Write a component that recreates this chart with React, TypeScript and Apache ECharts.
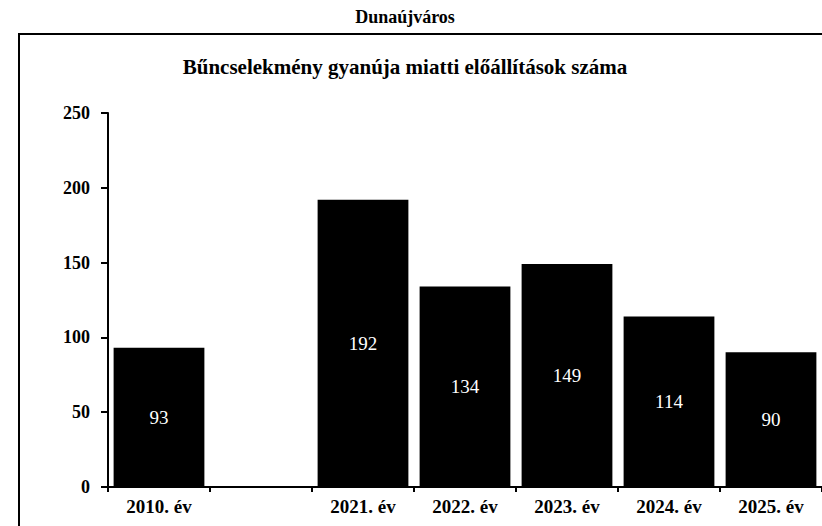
import React, { useEffect, useRef } from "react";
import * as echarts from "echarts";

const categories = ["2010. év", "", "2021. év", "2022. év", "2023. év", "2024. év", "2025. év"];
const values: (number | null)[] = [93, null, 192, 134, 149, 114, 90];
const mainTitle = "Dunaújváros";
const subTitle = "Bűncselekmény gyanúja miatti előállítások száma";

const FONT = "Liberation Serif, Times New Roman, serif";

export default function App() {
  const ref = useRef<HTMLDivElement>(null);
  useEffect(() => {
    if (!ref.current) return;
    const chart = echarts.init(ref.current, undefined, { renderer: "svg" });
    chart.setOption({
      animation: false,
      backgroundColor: "#ffffff",
      title: [
        {
          text: mainTitle,
          left: 400,
          textAlign: "center",
          top: 3,
          textStyle: { fontFamily: FONT, fontWeight: "bold", fontSize: 18, color: "#000" },
        },
        {
          text: subTitle,
          left: 400,
          textAlign: "center",
          top: 51,
          textStyle: { fontFamily: FONT, fontWeight: "bold", fontSize: 21, color: "#000" },
        },
      ],
      graphic: [
        {
          type: "rect",
          shape: { x: 19, y: 34, width: 900, height: 600 },
          style: { fill: "none", stroke: "#000", lineWidth: 2 },
          silent: true,
          z: -1,
        },
      ],
      grid: { left: 108, right: 0, top: 113, bottom: 39, containLabel: false },
      xAxis: {
        type: "category",
        data: categories,
        axisLine: { lineStyle: { color: "#000", width: 2 } },
        axisTick: { show: true, length: 5, alignWithLabel: false, lineStyle: { color: "#000", width: 2 } },
        axisLabel: {
          fontFamily: FONT,
          fontWeight: "bold",
          fontSize: 19,
          color: "#000",
          margin: 10,
          interval: 0,
        },
      },
      yAxis: {
        type: "value",
        min: 0,
        max: 250,
        interval: 50,
        splitLine: { show: false },
        axisLine: { show: true, lineStyle: { color: "#000", width: 2 } },
        axisTick: { show: true, length: 7, lineStyle: { color: "#000", width: 2 } },
        axisLabel: {
          fontFamily: FONT,
          fontWeight: "bold",
          fontSize: 18,
          color: "#000",
          margin: 18,
        },
      },
      series: [
        {
          type: "bar",
          data: values,
          barCategoryGap: "11%",
          itemStyle: { color: "#000" },
          label: {
            show: true,
            position: "inside",
            color: "#fff",
            fontFamily: FONT,
            fontSize: 19,
          },
        },
      ],
    });
    return () => chart.dispose();
  }, []);
  return (
    <div
      ref={ref}
      style={{ position: "fixed", left: 0, top: 0, width: 822, height: 526, background: "#fff" }}
    />
  );
}
